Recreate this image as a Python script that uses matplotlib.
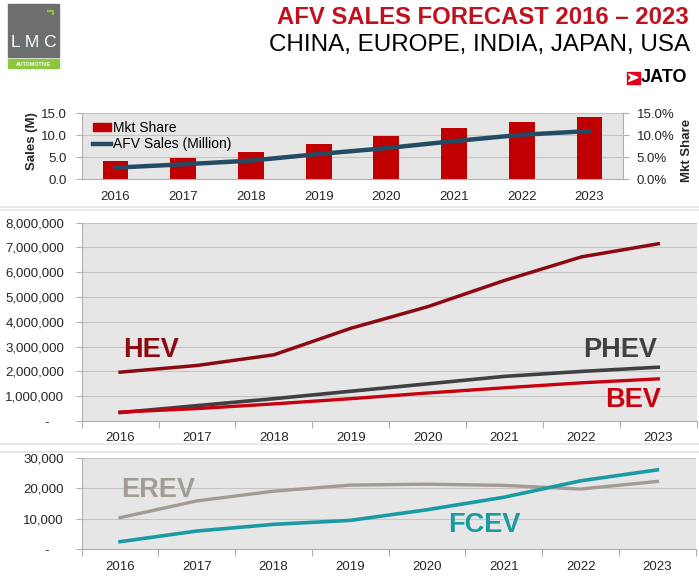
import numpy as np
import matplotlib
matplotlib.use('Agg')
import matplotlib.pyplot as plt
from matplotlib.patches import Rectangle, Polygon
from matplotlib.lines import Line2D
from matplotlib.ticker import FuncFormatter

plt.rcParams['font.family'] = ['Liberation Sans', 'DejaVu Sans']

# data
years = ['2016', '2017', '2018', '2019', '2020', '2021', '2022', '2023']
mkt_share = [4.0, 4.85, 6.1, 8.0, 9.75, 11.6, 13.1, 14.05]      # %
afv_sales = [2.6, 3.35, 4.2, 5.7, 7.05, 8.65, 10.1, 10.95]       # million
hev = [1970000, 2240000, 2670000, 3740000, 4610000, 5670000, 6620000, 7150000]
phev = [340000, 620000, 900000, 1200000, 1500000, 1800000, 2000000, 2170000]
bev = [360000, 500000, 690000, 900000, 1130000, 1340000, 1540000, 1700000]
erev = [10300, 15800, 19000, 21000, 21300, 20900, 19700, 22200]
fcev = [2400, 5900, 8100, 9400, 12900, 17000, 22400, 26000]

W, H = 699, 577
bg = '#e6e6e6'
grid_c = '#c4c4c4'
axis_c = '#b0b0b0'
text_c = '#262626'
x = np.arange(len(years))

fig = plt.figure(figsize=(W / 100, H / 100), dpi=100)


def px_axes(left, top, right, bottom, **kw):
    return fig.add_axes([left / W, 1 - bottom / H, (right - left) / W, (bottom - top) / H], **kw)


# background layer for logos, titles and panel separators (pixel coords)
deco = fig.add_axes([0, 0, 1, 1], zorder=0)
deco.set_xlim(0, W)
deco.set_ylim(H, 0)
deco.axis('off')

# LMC logo
deco.add_patch(Rectangle((8.3, 4), 51, 52.7, color='#6d6e70'))
deco.add_patch(Rectangle((8.3, 59.3), 51, 9, color='#8cc63e'))
deco.plot([47, 53, 53], [10.5, 10.5, 15], color='#8cc63e', lw=1.6, solid_capstyle='butt')
deco.text(34, 47, 'L M C', color='white', fontsize=12.5, ha='center', va='baseline')
deco.text(33.8, 64, 'AUTOMOTIVE', color='white', fontsize=3.8, fontweight='bold', ha='center', va='center')

# titles
deco.text(689, 17.5, 'AFV SALES FORECAST 2016 \u2013 2023', color='#c0121c', fontsize=17.2,
          fontweight='bold', ha='right', va='center')
deco.text(690, 44.5, 'CHINA, EUROPE, INDIA, JAPAN, USA', color='black', fontsize=17.4,
          ha='right', va='center')

# JATO logo
deco.add_patch(Rectangle((626.5, 71.5), 13.5, 12, color='#e3001b'))
deco.add_patch(Polygon([[628.5, 74], [638, 77.5], [628.5, 81.5], [631.5, 77.5]], closed=True,
                       color='white'))
deco.text(641, 78, 'JATO', color='black', fontsize=13, fontweight='bold', ha='left', va='center')

# panel separators
for yy in (207, 209.5, 443.5, 451.5):
    deco.plot([0, W], [yy, yy], color='#e4e4e4', lw=1.2)

# axis titles of the top panel
deco.text(31.7, 140.7, 'Sales (M)', rotation=90, fontsize=9.5, fontweight='bold', color=text_c,
          ha='center', va='center')
deco.text(686.7, 150, 'Mkt Share', rotation=90, fontsize=9.5, fontweight='bold', color=text_c,
          ha='center', va='center')


def cat_axis(ax, pad):
    ax.set_xlim(-0.5, len(years) - 0.5)
    ax.set_xticks(np.arange(len(years) + 1) - 0.5)
    ax.set_xticklabels([])
    ax.set_xticks(x, minor=True)
    ax.set_xticklabels(years, minor=True)
    ax.tick_params(axis='x', which='major', length=5, color=axis_c, width=0.8)
    ax.tick_params(axis='x', which='minor', length=0, pad=pad, labelsize=9.5, labelcolor=text_c)
    ax.tick_params(axis='y', length=4, color=axis_c, width=0.8, labelsize=9.5, labelcolor=text_c)
    for s in ('top', 'right'):
        ax.spines[s].set_visible(False)
    for s in ('left', 'bottom'):
        ax.spines[s].set_color(axis_c)
        ax.spines[s].set_linewidth(0.8)
    ax.set_facecolor(bg)
    ax.grid(axis='y', color=grid_c, lw=0.8)
    ax.set_axisbelow(True)


# --- top panel: market share bars + AFV sales line
ax_share = px_axes(81.7, 113.3, 623.3, 179, zorder=1)
ax_sales = ax_share.twinx()
ax_sales.set_zorder(2)
ax_sales.patch.set_visible(False)

cat_axis(ax_share, 8.8)
ax_share.bar(x, mkt_share, width=0.38, color='#c00000', zorder=2)
ax_share.set_ylim(0, 15)
ax_share.set_yticks([0, 5, 10, 15])
ax_share.yaxis.tick_right()
ax_share.yaxis.set_major_formatter(FuncFormatter(lambda v, p: f'{v:.1f}%'))
ax_share.tick_params(axis='y', pad=5.5)
ax_share.spines['left'].set_visible(True)
ax_share.spines['right'].set_visible(True)
ax_share.spines['right'].set_color(axis_c)

ax_sales.plot(x, afv_sales, color='#244b64', lw=3.2, solid_capstyle='round')
ax_sales.set_ylim(0, 15)
ax_sales.set_yticks([0, 5, 10, 15])
ax_sales.yaxis.tick_left()
ax_sales.yaxis.set_major_formatter(FuncFormatter(lambda v, p: f'{v:.1f}'))
ax_sales.tick_params(axis='y', length=4, color=axis_c, width=0.8, labelsize=9.5,
                     labelcolor=text_c, pad=6.5)
ax_sales.set_xticks([])
for s in ax_sales.spines.values():
    s.set_visible(False)

handles = [Rectangle((0, 0), 1, 1, color='#c00000'),
           Line2D([], [], color='#244b64', lw=3.2)]
ax_sales.legend(handles, ['Mkt Share', 'AFV Sales (Million)'], loc='upper left',
                bbox_to_anchor=(0.016, 0.93), frameon=False, fontsize=10, handlelength=1.3,
                handleheight=0.5, handletextpad=0.1, labelspacing=0.2, borderaxespad=0,
                borderpad=0.2)

# --- middle panel: HEV / PHEV / BEV
ax_mid = px_axes(81.7, 222.7, 696.7, 421, zorder=1)
cat_axis(ax_mid, 8.2)
ax_mid.plot(x, hev, color='#8b0a12', lw=2.5)
ax_mid.plot(x, phev, color='#3f4044', lw=2.6)
ax_mid.plot(x, bev, color='#c8000f', lw=2.4)
ax_mid.set_ylim(0, 8000000)
ax_mid.set_yticks(np.arange(0, 8000001, 1000000))
ax_mid.yaxis.set_major_formatter(FuncFormatter(lambda v, p: f'{v:,.0f}' if v else '-    '))
ax_mid.tick_params(axis='y', pad=8.5)

lab = dict(fontsize=19.5, fontweight='bold', va='baseline')
ax_mid.text(0.04, 2590000, 'HEV', color='#8b0a12', ha='left', **lab)
ax_mid.text(6.98, 2590000, 'PHEV', color='#3f4044', ha='right', **lab)
ax_mid.text(7.03, 580000, 'BEV', color='#c8000f', ha='right', **lab)

# --- bottom panel: EREV / FCEV
ax_low = px_axes(81.7, 457.7, 695.7, 549, zorder=1)
cat_axis(ax_low, 8.5)
ax_low.plot(x, erev, color='#a39c93', lw=2.4)
ax_low.plot(x, fcev, color='#1a9aa2', lw=2.6)
ax_low.set_ylim(0, 30000)
ax_low.set_yticks([0, 10000, 20000, 30000])
ax_low.yaxis.set_major_formatter(FuncFormatter(lambda v, p: f'{v:,.0f}' if v else '-    '))
ax_low.tick_params(axis='y', pad=9)

ax_low.text(0.01, 17000, 'EREV', color='#a39c93', ha='left', **lab)
ax_low.text(4.27, 5700, 'FCEV', color='#1a9aa2', ha='left', **lab)

fig.savefig('out.png', dpi=100)
